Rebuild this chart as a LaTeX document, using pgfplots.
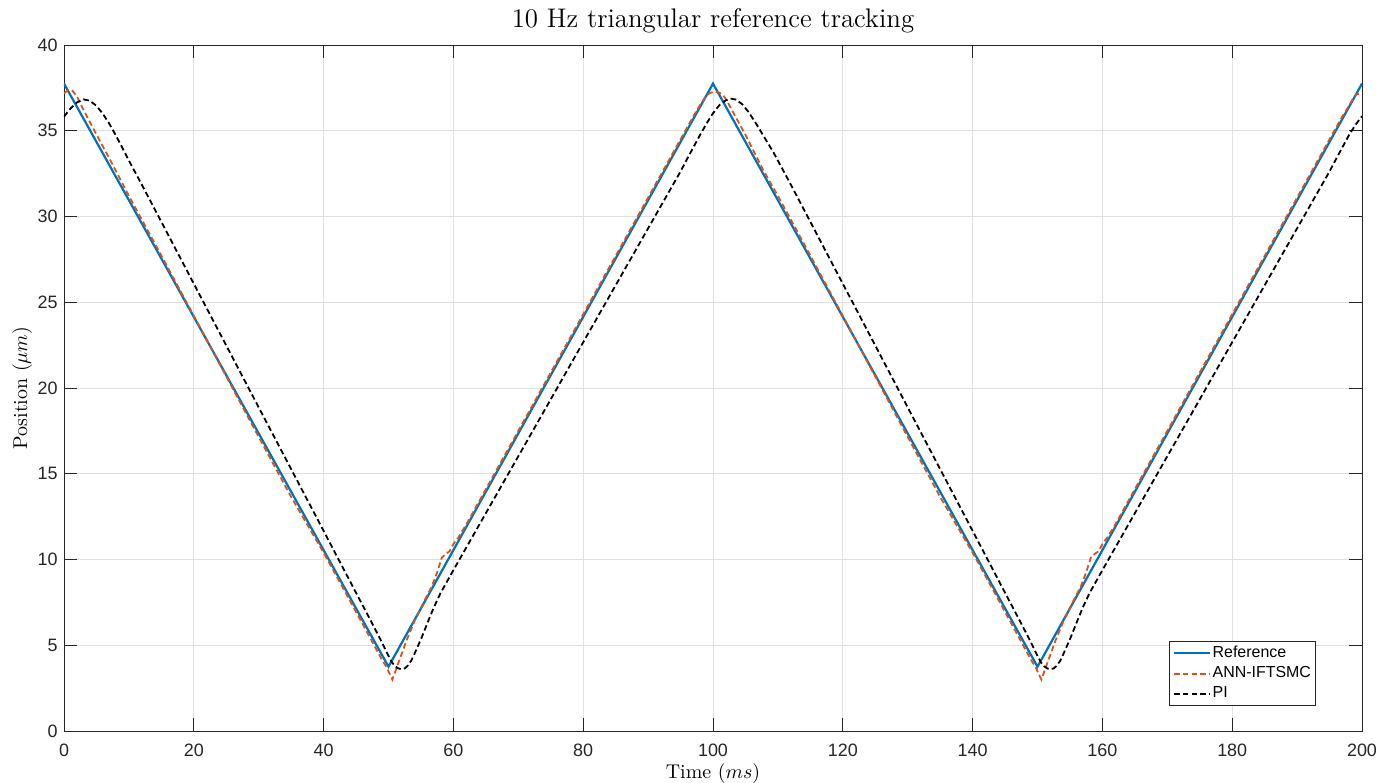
\documentclass[border=0pt]{standalone}
\usepackage{fontspec}
\newfontfamily\arialfont{Liberation Sans}
\usepackage{pgfplots}
\pgfplotsset{compat=1.18}
\definecolor{mblue}{rgb}{0,0.447,0.741}
\definecolor{morange}{rgb}{0.85,0.325,0.098}
\definecolor{axgray}{rgb}{0.15,0.15,0.15}
\begin{document}
\begin{tikzpicture}
\path[use as bounding box] (-32bp,-26bp) rectangle (663.5bp,365.5bp);
\begin{axis}[
 at={(0,0)}, anchor=south west,
 scale only axis, width=649bp, height=343bp,
 xmin=0, xmax=200, ymin=0, ymax=40,
 xtick={0,20,...,200}, ytick={0,5,...,40},
 tick align=inside, tick pos=both,
 major tick length=6.5bp,
 grid=major, major grid style={color=black!12, line width=0.5bp},
 axis line style={color=axgray, line width=0.5bp},
 tick style={color=axgray, line width=0.5bp},
 /pgf/number format/assume math mode=true,
 ticklabel style={font=\arialfont\fontsize{9}{10}\selectfont, color=axgray},
 xticklabel style={anchor=north, inner sep=0pt, yshift=-6.5bp},
 yticklabel style={anchor=east, inner sep=0pt, xshift=-3bp},
 title={10 Hz triangular reference tracking},
 title style={at={(0.5,1.008)}, anchor=base, inner sep=0pt, font=\fontsize{13.5}{16}\selectfont},
 xlabel={Time ($ms$)},
 xlabel style={at={(0.5,-0.069)}, anchor=base, inner sep=0pt, font=\fontsize{10}{12}\selectfont},
 ylabel={Position ($\mu m$)},
 ylabel style={at={(-0.0285,0.5)}, anchor=base, inner sep=0pt, font=\fontsize{10}{12}\selectfont},
 legend style={at={(0.9646,0.0364)}, anchor=south east, draw=axgray, line width=0.5bp, fill=white,
   font=\arialfont\fontsize{8}{9}\selectfont, inner xsep=1.5bp, inner ysep=1.5bp, row sep=1.5bp,
   nodes={inner sep=0.8bp}},
 legend cell align=left,
 legend image code/.code={\draw[#1] (0bp,0bp) -- (18bp,0bp);},
]
\addplot[color=mblue, line width=1.1bp] coordinates {
(0,37.75) (50,3.75) (100,37.75) (150,3.75) (200,37.75)};
\addlegendentry{Reference}
\addplot[color=morange, line width=0.9bp, dash pattern=on 2.8bp off 1.6bp] coordinates {
(0,37.18) (0.6,37.36) (1.3,37.33) (2,37.0) (3,36.22) (4,35.5) (5,34.78) (7,33.38) (10,31.2)
(15,27.72) (20,24.2) (25,20.68) (30,17.15) (35,13.65) (40,10.4) (44,7.64) (47,5.55) (49,4.15)
(49.7,3.72) (50.6,3.0) (51.5,3.95) (52.8,5.3) (54,6.4) (55.6,7.64) (56.65,8.41) (57.5,9.25)
(58.2,10.1) (58.8,10.32) (59.4,10.48) (60,10.9) (60.7,11.25) (62,12.05) (65,14.1) (70,17.5)
(75,20.9) (80,24.3) (85,27.7) (90,31.1) (95,34.5) (97,35.86) (98,36.5) (99,37.05) (99.5,37.2)
(100.3,37.28) (101,37.22) (101.6,37.05) (102.2,36.72) (102.6,36.42) (103.5,35.8) (105,34.76)
(107.75,32.7) (110,31.2) (115,27.72) (120,24.2) (125,20.68) (130,17.15) (135,13.65) (140,10.4)
(144,7.64) (147,5.55) (149,4.15) (149.7,3.72) (150.6,3.0) (151.5,3.95) (152.8,5.3) (154,6.4)
(155.6,7.64) (156.65,8.41) (157.5,9.25) (158.2,10.1) (158.8,10.32) (159.4,10.48) (160,10.9)
(160.7,11.25) (162,12.05) (165,14.1) (170,17.5) (175,20.9) (180,24.3) (185,27.7) (190,31.1)
(195,34.5) (197,35.86) (198,36.45) (198.7,36.95) (199.3,37.15) (200,37.15)};
\addlegendentry{ANN-IFTSMC}
\addplot[color=black, line width=0.9bp, dash pattern=on 2.8bp off 1.6bp] coordinates {
(0,35.82) (1,36.3) (2,36.65) (3,36.83) (4,36.75) (5,36.45) (6,35.98) (7,35.4) (8,34.72) (9,34.0)
(10,33.26) (12,31.85) (15,29.69) (20,26.08) (25,22.48) (30,18.87) (35,15.27) (40,11.67) (44,8.78)
(46,7.34) (47,6.62) (48,5.9) (49,5.15) (50,4.38) (50.5,4.02) (51,3.78) (51.5,3.65) (52,3.6)
(52.5,3.65) (53,3.82) (53.5,4.1) (54,4.5) (55,5.35) (56,6.3) (57,7.22) (58,8.03) (60,9.38)
(65,12.7) (70,16.02) (75,19.34) (80,22.67) (85,25.99) (90,29.31) (93,31.3) (95,32.63) (96,33.35)
(97,34.05) (98,34.75) (99,35.42) (100,36.02) (101,36.5) (102,36.78) (102.8,36.87) (103.5,36.82)
(104.5,36.55) (105.5,36.08) (106.5,35.5) (107.5,34.88) (108.5,34.25) (109.3,33.75) (110,33.26) (112,31.85)
(115,29.69) (120,26.08) (125,22.48) (130,18.87) (135,15.27) (140,11.67) (144,8.78) (146,7.34)
(147,6.62) (148,5.9) (149,5.15) (150,4.38) (150.5,4.02) (151,3.78) (151.5,3.65) (152,3.6)
(152.5,3.65) (153,3.82) (153.5,4.1) (154,4.5) (155,5.35) (156,6.3) (157,7.22) (158,8.03)
(160,9.38) (165,12.7) (170,16.02) (175,19.34) (180,22.67) (185,25.99) (190,29.31) (193,31.3)
(195,32.63) (196,33.35) (197,34.05) (198,34.75) (199,35.35) (200,35.85)};
\addlegendentry{PI}
\end{axis}
\end{tikzpicture}
\end{document}
